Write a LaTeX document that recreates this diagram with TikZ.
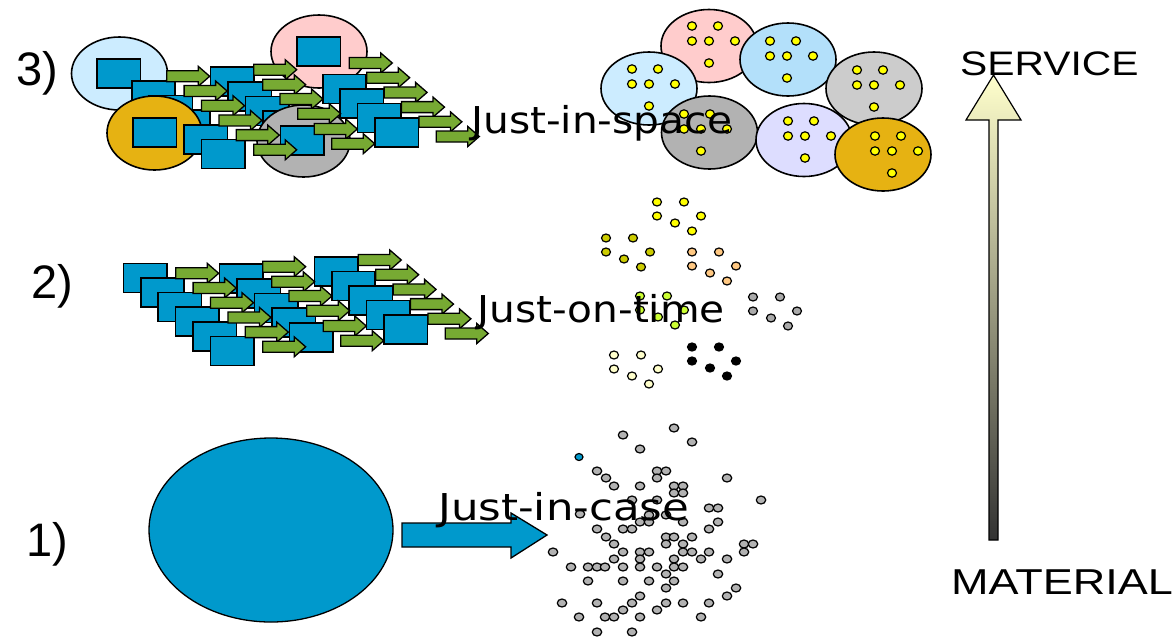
\documentclass[tikz,border=0pt]{standalone}
\usepackage{fontspec}
\newfontfamily\numfont{Liberation Sans}
\newfontfamily\axisfont[FakeStretch=1.2]{Liberation Sans}
\newfontfamily\axiswidefont[FakeStretch=1.25]{Liberation Sans}
\newfontfamily\justfont[FakeStretch=1.1]{DejaVu Sans}
\newfontfamily\justwidefont[FakeStretch=1.175]{DejaVu Sans}
\definecolor{boxblue}{RGB}{0,153,204}
\definecolor{arrowgreen}{RGB}{119,170,51}
\definecolor{paleblue}{RGB}{204,236,255}
\definecolor{skyblue}{RGB}{179,224,250}
\definecolor{rosepink}{RGB}{255,204,204}
\definecolor{goldfill}{RGB}{230,178,18}
\definecolor{midgrey}{RGB}{178,178,178}
\definecolor{lightgrey}{RGB}{204,204,204}
\definecolor{lavendr}{RGB}{221,221,255}
\definecolor{dotyellow}{RGB}{255,255,0}
\definecolor{dotolive}{RGB}{204,204,0}
\definecolor{dotorange}{RGB}{255,200,130}
\definecolor{dotlime}{RGB}{204,255,51}
\definecolor{dotgrey}{RGB}{170,170,170}
\definecolor{dotcream}{RGB}{255,255,204}
\tikzset{
  box/.style={draw=black, line width=1.6pt, fill=boxblue},
  greenarrow/.style={draw=black, line width=1.3pt, fill=arrowgreen, line join=miter},
  blob/.style={draw=black, line width=1.6pt},
  dot/.style={draw=black, line width=1.2pt},
  justlabel/.style={anchor=base west, inner sep=0pt, font=\justfont\fontsize{37}{44}\selectfont},
  numlabel/.style={anchor=base west, inner sep=0pt, font=\numfont\fontsize{47}{54}\selectfont},
  axislabel/.style={anchor=base west, inner sep=0pt, font=\axisfont\fontsize{34}{40}\selectfont},
}
% one blue block and one green block arrow (x,y = top left / left middle)
\newcommand{\blockbox}[2]{\draw[box] (#1,#2) rectangle ++(43.5,29)}
\newcommand{\blockarrow}[2]{\draw[greenarrow] (#1,#2) ++(0,-5.5) -- ++(31.5,0) -- ++(0,-4.5) -- ++(11.5,10) -- ++(-11.5,10) -- ++(0,-4.5) -- ++(-31.5,0) -- cycle}
% group of six dots for the just-on-time row
\newcommand{\dotsix}[3]{\foreach \dx/\dy in {0/0,27/0,0/14,44/14,18/21,35/29} \draw[dot, fill=#3] (#1+\dx,#2+\dy) ellipse (4.5 and 4)}
% coloured cloud with its six yellow dots
\newcommand{\dotcloud}[5]{\draw[blob, fill=#5] (#1,#2) ellipse (48 and 36.5);
  \foreach \dx/\dy in {-17/-15,9/-15,-17/0,0/0,26/0,0/22} \draw[dot, fill=dotyellow] (#3+\dx,#4+\dy) ellipse (4.5 and 4.2)}

\begin{document}
\begin{tikzpicture}[x=1pt, y=-1pt]
  \useasboundingbox (0,0) rectangle (1172,638);

  % 3) just-in-space
  \draw[blob, fill=paleblue] (119.5,73.5) ellipse (48 and 36.5);
  \blockbox{97}{59};
  \foreach \k in {1,2,3} \blockbox{114.3+17.4*\k}{66.3+14.6*\k};
  \draw[blob, fill=goldfill] (154.5,133) ellipse (47.5 and 37);
  \blockbox{133}{118};
  \foreach \k in {4,5} \blockbox{114.3+17.4*\k}{66.3+14.6*\k};
  \foreach \k in {0,...,3} \blockbox{210.3+17.5*\k}{67+14.7*\k};
  \draw[blob, fill=midgrey] (303.5,141) ellipse (46.5 and 36);
  \blockbox{280.3}{125.8};
  \draw[blob, fill=rosepink] (319,51.5) ellipse (48 and 36.5);
  \blockbox{297}{37};
  \foreach \k in {1,...,4} \blockbox{305.3+17.4*\k}{59.7+14.6*\k};
  \foreach \k in {0,...,5} \blockarrow{166.7+17.4*\k}{76.3+14.7*\k};
  \foreach \x/\y in {253.7/69.7,262.7/84.7,280/99,297.7/113.7,314.3/129,331.7/143.7} \blockarrow{\x}{\y};
  \foreach \k in {0,...,5} \blockarrow{349.3+17.4*\k}{63+14.7*\k};

  \dotcloud{709}{46}{709}{41}{rosepink};
  \dotcloud{788}{59.5}{787}{56}{skyblue};
  \dotcloud{649}{88.5}{649}{84}{paleblue};
  \dotcloud{874}{88.5}{874}{85}{lightgrey};
  \dotcloud{709.5}{132.5}{701}{129}{midgrey};
  \dotcloud{804}{140}{805}{136}{lavendr};
  \dotcloud{883}{154.5}{892}{151}{goldfill};

  % 2) just-on-time
  \foreach \k in {0,...,5} \blockbox{123.3+17.4*\k}{263.3+14.6*\k};
  \foreach \k in {0,...,4} \blockbox{219.3+17.5*\k}{264+14.7*\k};
  \foreach \k in {0,...,4} \blockbox{314.3+17.4*\k}{256.7+14.6*\k};
  \foreach \k in {0,...,5} \blockarrow{175.7+17.4*\k}{273.3+14.7*\k};
  \foreach \x/\y in {262.7/266.7,271.7/281.7,289/296,306.7/310.7,323.3/326,340.7/340.7} \blockarrow{\x}{\y};
  \foreach \k in {0,...,5} \blockarrow{358.3+17.4*\k}{260+14.7*\k};

  \dotsix{657}{202}{dotyellow};
  \dotsix{606}{238}{dotolive};
  \dotsix{692}{252}{dotorange};
  \dotsix{640}{296}{dotlime};
  \dotsix{753}{297}{dotgrey};
  \dotsix{614}{355}{dotcream};
  \dotsix{692}{347}{black};

  % 1) just-in-case
  \draw[blob, line width=1.3pt, fill=boxblue] (271,530) ellipse (122 and 92);
  \draw[blob, line width=1.3pt, fill=boxblue] (402,523) -- (511,523) -- (511,513) -- (547,535) -- (511,558) -- (511,547) -- (402,547) -- cycle;
  \foreach \x/\y in {674/428,623/435,692/442,640/449,597/471,657/471,666/471,606/478,657/478,727/478,
    614/486,640/486,674/486,683/486,674/493,683/493,761/500,632/500,657/500,709/508,718/508,580/514,
    649/515,666/515,640/522,649/522,683/522,718/522,597/529,623/529,632/529,709/529,606/537,666/537,
    674/537,692/537,614/544,666/544,683/544,744/544,753/544,553/552,623/552,640/552,649/552,683/552,
    692/552,709/552,744/552,701/559,614/559,640/559,674/559,727/559,571/567,588/567,597/567,605/567,
    623/567,640/567,657/567,674/567,683/567,666/574,718/574,588/581,623/581,649/581,674/581,666/588,
    736/588,640/596,727/596,562/603,597/603,632/603,666/603,683/603,709/603,623/610,657/610,579/617,
    605/617,614/617,640/617,701/617,597/632,632/632}
    \draw[dot, fill=midgrey] (\x,\y) ellipse (4.7 and 4);
  \draw[dot, fill=boxblue] (579,457) ellipse (4 and 3.5);

  % material -> service
  \path[draw=black, line width=1.2pt, top color=dotcream, bottom color=black!80]
    (989,540) -- (989,120) -- (966,120) -- (993.5,75) -- (1021,120) -- (998,120) -- (998,540) -- cycle;

  % labels
  \node[numlabel] (lbl3) at (16,85) {3)};
  \node[numlabel] (lbl2) at (31,298) {2)};
  \node[numlabel] (lbl1) at (26,556) {1)};
  \node[justlabel] (jis) at (471,133) {Just-in-space};
  \node[justlabel] (jot) at (477,322) {Just-on-time};
  \node[justlabel, font=\justwidefont\fontsize{37}{44}\selectfont] (jic) at (438,520) {Just-in-case};
  \node[axislabel] (service) at (960,75) {SERVICE};
  \node[axislabel, font=\axiswidefont\fontsize{36}{42}\selectfont] (material) at (951,594) {MATERIAL};
\end{tikzpicture}
\end{document}
